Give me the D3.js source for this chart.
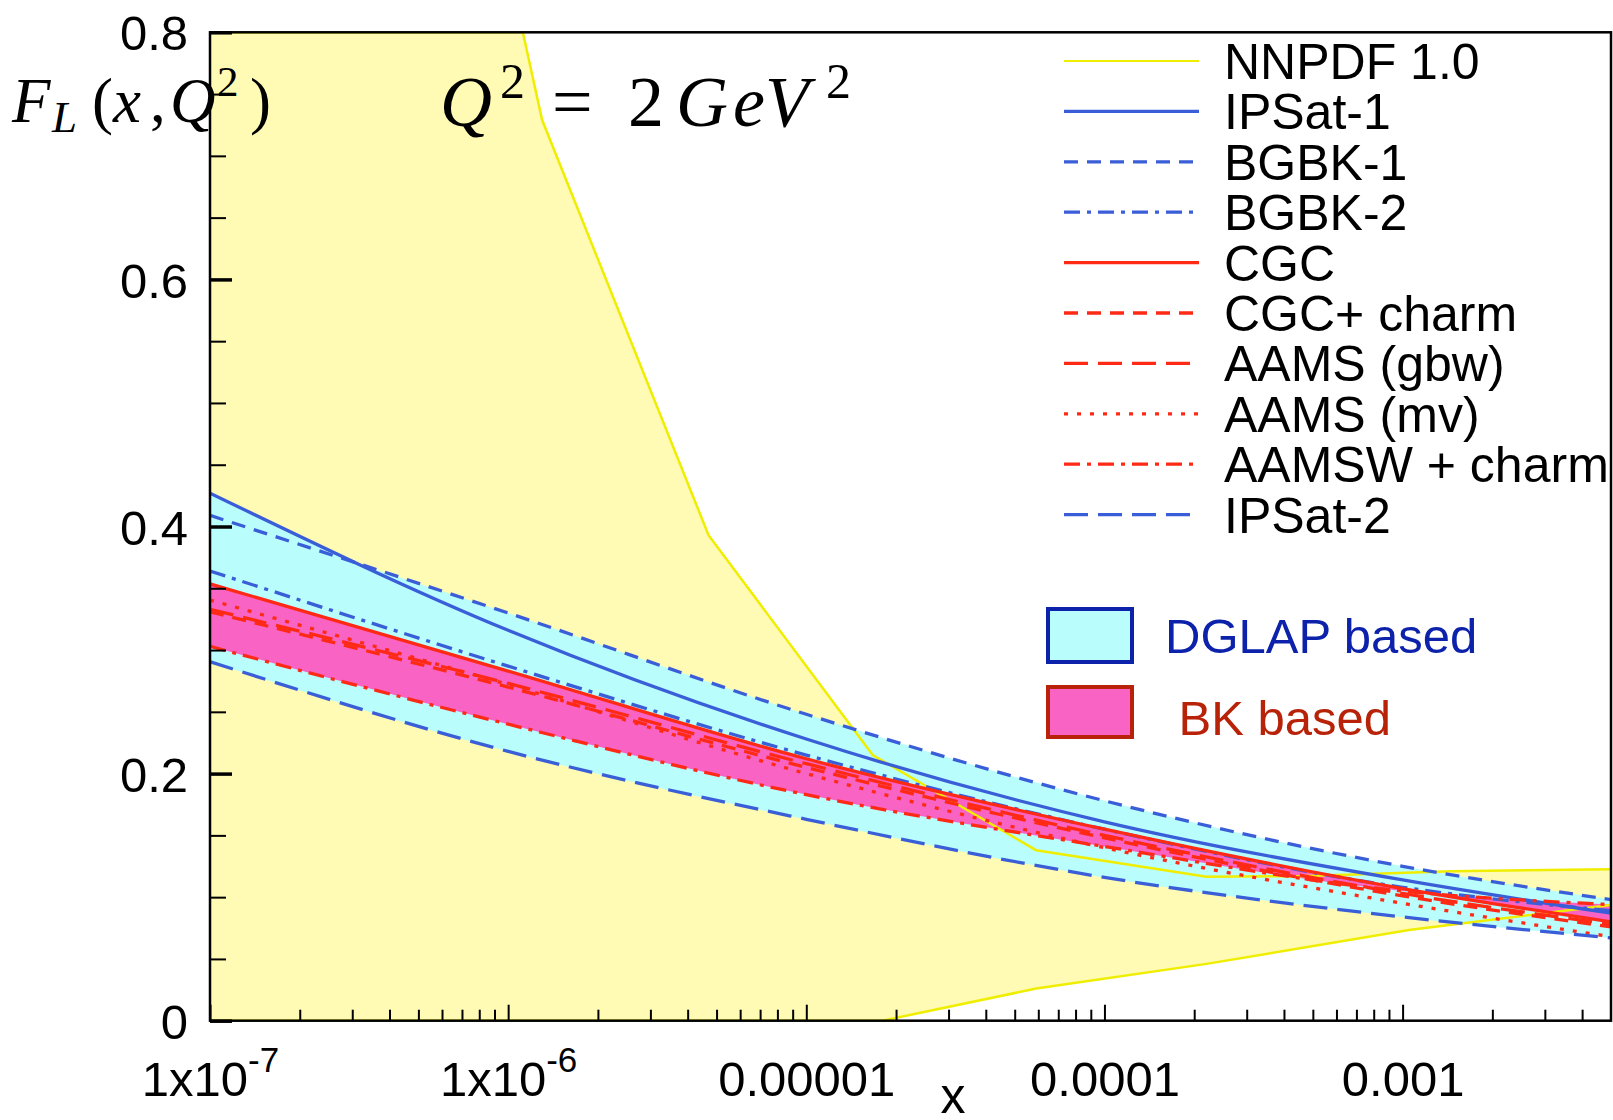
<!DOCTYPE html>
<html>
<head>
<meta charset="utf-8">
<script src="https://cdn.jsdelivr.net/npm/d3@7"></script>
<style>
  body { margin: 0; background: #fff; }
  text { font-family: "Liberation Sans", Arial, Helvetica, sans-serif; }
  .math { font-family: "Liberation Serif", "Times New Roman", serif; }
</style>
</head>
<body>
<div id="chart"></div>
<script>
// x grid shared by the model curves
var xGrid = [1e-7, 1e-6, 1e-5, 1e-4, 1e-3, 5e-3];

// DGLAP based models
var ipsat1 = [0.427, 0.316, 0.228, 0.161, 0.114, 0.087];
var bgbk1  = [0.409, 0.330, 0.248, 0.178, 0.125, 0.098];
var bgbk2  = [0.364, 0.287, 0.215, 0.155, 0.108, 0.089];
var ipsat2 = [0.2906, 0.218, 0.163, 0.116, 0.084, 0.067];

// BK based models
var cgc      = [0.3535, 0.283, 0.212, 0.155, 0.107, 0.080];
var cgcCharm = [0.331, 0.270, 0.205, 0.148, 0.101, 0.076];
var aamsGbw  = [0.333, 0.273, 0.208, 0.150, 0.103, 0.078];
var aamsMv   = [0.3405, 0.272, 0.200, 0.140, 0.095, 0.068];
var aamsw    = [0.303, 0.240, 0.183, 0.141, 0.105, 0.094];

// NNPDF 1.0 error band
var nnpdfUpperX = [1e-7, 1.12e-6, 1.3e-6, 4.7e-6, 1.67e-5, 5.9e-5, 2.2e-4, 4.5e-4, 1.45e-3, 5e-3];
var nnpdfUpper  = [0.8, 0.8, 0.729, 0.393, 0.215, 0.138, 0.1166, 0.117, 0.121, 0.1225];
var nnpdfLowerX = [1e-7, 1.8e-5, 5.9e-5, 2.2e-4, 1.05e-3, 5e-3];
var nnpdfLower  = [0, 0, 0.026, 0.046, 0.0734, 0.0936];

var yTicks = [0, 0.2, 0.4, 0.6, 0.8];
var xTicks = [1e-7, 1e-6, 1e-5, 1e-4, 1e-3];
var xTickLabels = [["1x10", "-7"], ["1x10", "-6"], ["0.00001"], ["0.0001"], ["0.001"]];

var blue = "#3a5ed8", red = "#ff2a16";
var series = [
  {name: "NNPDF 1.0",      color: "#f0ee00", dash: null,        w: 2,   data: null},
  {name: "IPSat-1",        color: blue, dash: null,             w: 3.3, data: ipsat1},
  {name: "BGBK-1",         color: blue, dash: "14,9",           w: 3.3, data: bgbk1},
  {name: "BGBK-2",         color: blue, dash: "16,7,4,7",       w: 3.3, data: bgbk2},
  {name: "CGC",            color: red,  dash: null,             w: 3.3, data: cgc},
  {name: "CGC+ charm",     color: red,  dash: "14,9",           w: 3.3, data: cgcCharm},
  {name: "AAMS (gbw)",     color: red,  dash: "24,10",          w: 3.3, data: aamsGbw},
  {name: "AAMS (mv)",      color: red,  dash: "4,9",            w: 3.3, data: aamsMv},
  {name: "AAMSW + charm",  color: red,  dash: "16,7,4,7",       w: 3.3, data: aamsw},
  {name: "IPSat-2",        color: blue, dash: "24,10",          w: 3.3, data: ipsat2}
];

var width = 1613, height = 1120;
var pLeft = 210, pRight = 1611, pTop = 32.3, pBottom = 1020.7;

var svg = d3.select("#chart").append("svg")
  .attr("width", width)
  .attr("height", height);

var x = d3.scaleLog().domain([1e-7, 5e-3]).range([pLeft, pRight]);
var y = d3.scaleLinear().domain([0, 0.8]).range([pBottom, pTop]);

svg.append("clipPath").attr("id", "plot-clip")
  .append("rect")
  .attr("x", pLeft).attr("y", pTop)
  .attr("width", pRight - pLeft).attr("height", pBottom - pTop);

var plot = svg.append("g").attr("clip-path", "url(#plot-clip)");

function pts(xs, ys) { return xs.map((v, i) => [v, ys[i]]); }

var line = d3.line()
  .x(d => x(d[0]))
  .y(d => y(d[1]))
  .curve(d3.curveMonotoneX);

// NNPDF band (polygon from upper edge and reversed lower edge)
var upperPts = pts(nnpdfUpperX, nnpdfUpper);
var lowerPts = pts(nnpdfLowerX, nnpdfLower);
var straight = d3.line().x(d => x(d[0])).y(d => y(d[1]));
plot.append("path")
  .attr("d", straight(upperPts.concat(lowerPts.slice().reverse())) + "Z")
  .attr("fill", "#fffab4");

// band fills: union of areas between each upper curve and the lower curve
function band(upperList, lower, fill) {
  var area = d3.area()
    .x((d, i) => x(xGrid[i]))
    .y0((d, i) => y(lower[i]))
    .y1(d => y(d))
    .curve(d3.curveMonotoneX);
  upperList.forEach(function(u) {
    plot.append("path").attr("d", area(u)).attr("fill", fill);
  });
}
band([ipsat1, bgbk1], ipsat2, "#b9fdfd");
band([cgc], aamsw, "#f964c4");

// NNPDF edges
[upperPts, lowerPts].forEach(function(p) {
  plot.append("path")
    .attr("d", straight(p))
    .attr("fill", "none")
    .attr("stroke", series[0].color)
    .attr("stroke-width", 2.5);
});

// model curves
series.slice(1).forEach(function(s) {
  plot.append("path")
    .attr("d", line(pts(xGrid, s.data)))
    .attr("fill", "none")
    .attr("stroke", s.color)
    .attr("stroke-width", s.w)
    .attr("stroke-dasharray", s.dash);
});

// frame
svg.append("rect")
  .attr("x", pLeft).attr("y", pTop)
  .attr("width", pRight - pLeft).attr("height", pBottom - pTop)
  .attr("fill", "none").attr("stroke", "#000").attr("stroke-width", 2.5);

// y axis
var yMinor = d3.range(0.05, 0.8, 0.05).filter(v => Math.abs(v * 5 - Math.round(v * 5)) > 1e-6);
svg.append("g")
  .attr("transform", "translate(" + pLeft + ",0)")
  .call(d3.axisLeft(y).tickValues(yMinor).tickSize(-16).tickFormat(""))
  .call(g => g.select(".domain").remove())
  .selectAll("line").attr("stroke-width", 2);

var yAxis = svg.append("g")
  .attr("transform", "translate(" + pLeft + ",0)")
  .call(d3.axisLeft(y).tickValues(yTicks).tickSize(-22).tickPadding(22)
        .tickFormat(d => d === 0 ? "0" : d3.format(".1f")(d)));
yAxis.select(".domain").remove();
yAxis.selectAll("line").attr("stroke-width", 3.5);
yAxis.selectAll("text")
  .attr("font-size", 49)
  .attr("font-family", "Liberation Sans, Arial, sans-serif")
  .attr("fill", "#000")
  .attr("dy", "0.36em");

// x axis
var xMinor = [];
d3.range(-7, -2).forEach(function(e) {
  d3.range(2, 10).forEach(function(m) {
    var v = m * Math.pow(10, e);
    if (v < 5e-3) xMinor.push(v);
  });
});
svg.append("g")
  .attr("transform", "translate(0," + pBottom + ")")
  .call(d3.axisBottom(x).tickValues(xMinor).tickSize(-11).tickFormat(""))
  .call(g => g.select(".domain").remove())
  .selectAll("line").attr("stroke-width", 2);

var xAxis = svg.append("g")
  .attr("transform", "translate(0," + pBottom + ")")
  .call(d3.axisBottom(x).tickValues(xTicks).tickSize(-16).tickFormat(""));
xAxis.select(".domain").remove();
xAxis.selectAll("line").attr("stroke-width", 2);

xAxis.selectAll(".tick").each(function(d, i) {
  var lab = xTickLabels[i];
  var t = d3.select(this).select("text")
    .attr("y", 75)
    .attr("dy", null)
    .attr("font-size", 49)
    .attr("font-family", "Liberation Sans, Arial, sans-serif")
    .attr("fill", "#000");
  t.append("tspan").text(lab[0]);
  if (lab.length > 1) {
    t.append("tspan").attr("font-size", 35).attr("dy", -24).text(lab[1]);
  }
});

// axis title
svg.append("text")
  .attr("x", 953).attr("y", 1113)
  .attr("text-anchor", "middle")
  .attr("font-size", 50)
  .text("x");

// math annotations
function mathText(pieces) {
  var t = svg.append("text").attr("class", "math");
  pieces.forEach(function(p) {
    t.append("tspan")
      .attr("x", p.x).attr("y", p.y)
      .attr("font-size", p.s)
      .attr("font-style", p.i ? "italic" : "normal")
      .text(p.t);
  });
}
mathText([
  {t: "F", x: 12, y: 122, s: 63, i: true},
  {t: "L", x: 52, y: 132, s: 45, i: true},
  {t: "(", x: 92, y: 122, s: 63},
  {t: "x", x: 113, y: 122, s: 63, i: true},
  {t: ",", x: 150, y: 122, s: 63},
  {t: "Q", x: 170, y: 122, s: 63, i: true},
  {t: "2", x: 217, y: 96, s: 43},
  {t: ")", x: 250, y: 122, s: 63}
]);
mathText([
  {t: "Q", x: 440, y: 126, s: 72, i: true},
  {t: "2", x: 500, y: 98, s: 50},
  {t: "=", x: 552, y: 126, s: 72},
  {t: "2", x: 628, y: 126, s: 72},
  {t: "G", x: 676, y: 126, s: 72, i: true},
  {t: "e", x: 733, y: 126, s: 72, i: true},
  {t: "V", x: 765, y: 126, s: 72, i: true},
  {t: "2", x: 826, y: 98, s: 50}
]);

// line legend
var legend = svg.append("g");
series.forEach(function(s, i) {
  var ly = 61 + i * 50.4;
  legend.append("line")
    .attr("x1", 1064).attr("x2", 1199)
    .attr("y1", ly).attr("y2", ly)
    .attr("stroke", s.color)
    .attr("stroke-width", s.w)
    .attr("stroke-dasharray", s.dash);
  legend.append("text")
    .attr("x", 1224).attr("y", ly + 18)
    .attr("font-size", 50)
    .text(s.name);
});

// band legend
var bands = [
  {label: "DGLAP based",  fill: "#b9fdfd", stroke: "#0c22aa", y: 609, h: 53, tx: 1165, ty: 653},
  {label: " BK based",    fill: "#f964c4", stroke: "#b82208", y: 687, h: 50, tx: 1165, ty: 735}
];
bands.forEach(function(b) {
  svg.append("rect")
    .attr("x", 1048).attr("y", b.y)
    .attr("width", 84).attr("height", b.h)
    .attr("fill", b.fill).attr("stroke", b.stroke).attr("stroke-width", 4);
  svg.append("text")
    .attr("x", b.tx).attr("y", b.ty)
    .attr("font-size", 49)
    .attr("fill", b.stroke)
    .attr("xml:space", "preserve")
    .style("white-space", "pre")
    .text(b.label);
});
</script>
</body>
</html>
